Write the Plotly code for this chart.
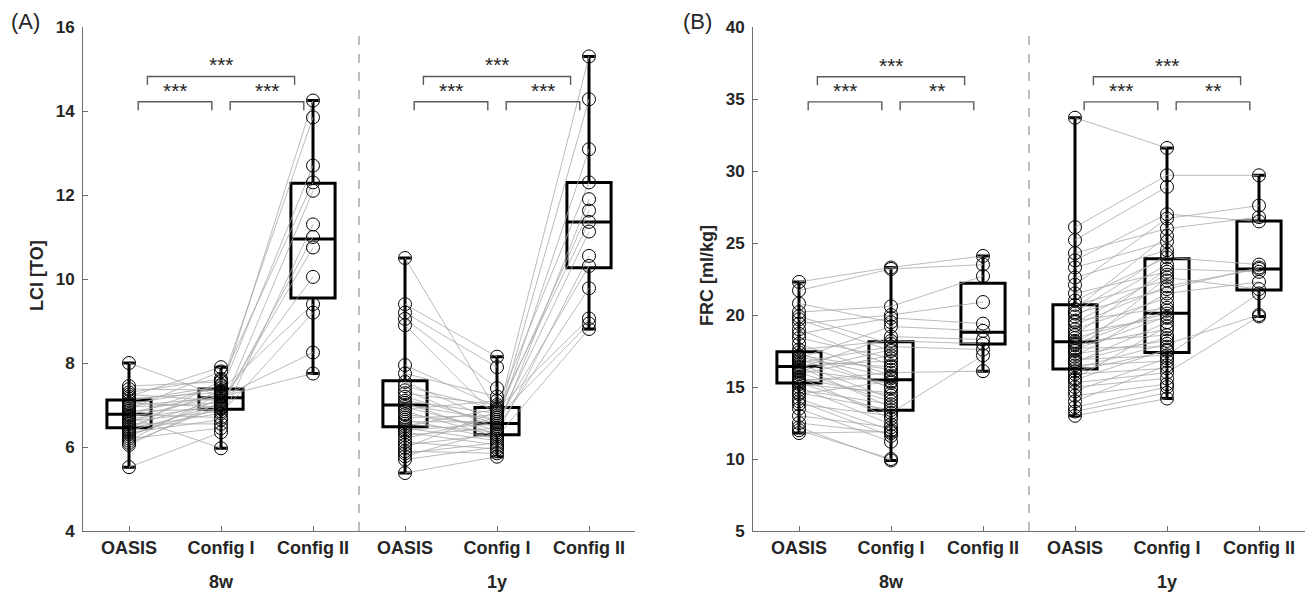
import plotly.graph_objects as go

N = None
W, H = 1308, 593
MT, MB = 27, 62

# ---------------- data ----------------
groups = ["OASIS", "Config I", "Config II"]
timepoints = ["8w", "1y"]

# LCI, 8 weeks (paired per subject)
lci_oasis_8w = [8.00, 7.45, 7.38, 7.30, 7.25, 7.20, 7.15, 7.10, 7.05, 7.02, 6.98, 6.95, 6.90, 6.86,
                6.82, 6.78, 6.75, 6.72, 6.70, 6.66, 6.62, 6.58, 6.55, 6.50, 6.46, 6.42, 6.38, 6.34,
                6.30, 6.25, 6.20, 6.15, 6.10, 6.05, 5.52]
lci_cfg1_8w = [7.20, 7.55, 7.35, 7.62, 7.10, 7.90, 7.30, 7.45, 6.95, 7.40, 7.18, 7.05, 7.80, 6.90,
               7.25, 6.70, 7.48, 5.97, 7.22, 7.00, 6.85, 7.32, 6.55, 7.12, 6.80, 7.58, 7.02, 6.65,
               6.92, 7.15, 6.45, 7.28, 6.98, 7.08, 6.35]
lci_cfg2_8w = [7.75, 12.30, 9.40, N, 10.05, N, 14.25, N, 11.00, N, 8.25, N, N, 12.10, N, N, 13.85,
               N, N, 10.75, N, 12.70, N, N, 9.20, N, N, 11.30]

# LCI, 1 year
lci_oasis_1y = [10.50, 9.40, 9.20, 9.05, 8.90, 7.95, 7.75, 7.55, 7.45, 7.35, 7.28, 7.20, 7.10, 7.05,
                7.00, 6.95, 6.90, 6.85, 6.78, 6.70, 6.65, 6.60, 6.55, 6.50, 6.45, 6.40, 6.35, 6.28,
                6.20, 6.12, 6.05, 5.98, 5.90, 5.85, 5.78, 5.70, 5.38]
lci_cfg1_1y = [6.85, 8.15, 7.90, 7.40, 6.70, 6.95, 7.20, 6.60, 6.90, 6.45, 7.00, 6.55, 6.80, 6.30,
               6.65, 6.40, 7.10, 6.25, 6.50, 6.75, 6.20, 6.60, 6.35, 6.90, 6.15, 6.55, 6.05, 6.45,
               6.70, 5.95, 6.30, 6.85, 5.85, 6.10, 6.40, 6.00, 5.77]
lci_cfg2_1y = [11.36, N, N, N, 15.30, 12.30, N, 14.28, N, 9.78, N, 13.09, N, 10.55, N, 11.90, N,
               8.81, N, 11.63, N, 10.31, N, 9.06, N, 11.13, N, N, 8.94]

# FRC, 8 weeks
frc_oasis_8w = [22.3, 21.7, 20.8, 20.2, 19.9, 19.7, 19.4, 19.0, 18.7, 18.4, 18.0, 17.6, 17.4, 17.2,
                17.0, 16.9, 16.7, 16.6, 16.5, 16.4, 16.3, 16.2, 16.0, 15.9, 15.7, 15.5, 15.4, 15.3,
                15.2, 15.0, 14.8, 14.5, 14.2, 14.0, 13.8, 13.5, 13.0, 12.5, 12.2, 12.0, 11.8, 16.8,
                15.6, 17.1, 14.6, 16.1]
frc_cfg1_8w = [23.3, 23.2, 19.5, 20.6, 18.0, 17.5, 20.0, 16.5, 19.8, 17.0, 15.8, 18.2, 14.9, 16.2,
               19.2, 15.0, 17.8, 14.2, 16.8, 13.6, 18.5, 15.3, 14.0, 17.2, 12.8, 15.6, 16.0, 13.2,
               14.6, 12.4, 13.8, 15.4, 12.0, 11.6, 13.0, 11.2, 12.2, 11.8, 9.9, 10.0, 11.9, 16.4,
               14.4, 15.7, 13.4, 17.6]
frc_cfg2_8w = [24.1, 23.5, N, 22.7, N, N, 20.9, N, 19.4, N, N, 18.0, N, N, 18.9, N, 17.6, N, N, N,
               18.3, N, N, N, N, N, 16.1, 17.2]

# FRC, 1 year
frc_oasis_1y = [33.7, 26.1, 25.2, 24.3, 23.8, 23.3, 22.6, 22.1, 21.5, 21.0, 20.7, 20.4, 20.1, 19.9,
                19.6, 19.3, 19.0, 18.8, 18.6, 18.4, 18.2, 18.1, 17.9, 17.7, 17.5, 17.3, 17.1, 16.9,
                16.7, 16.5, 16.3, 16.1, 15.9, 15.6, 15.3, 15.0, 14.7, 14.4, 14.0, 13.6, 13.3, 13.0,
                18.0, 19.5, 16.8, 20.2, 15.5, 17.6]
frc_cfg1_1y = [31.6, 29.7, 28.9, 26.0, 27.0, 25.1, 24.5, 26.7, 23.0, 24.0, 22.4, 25.5, 21.8, 23.5,
               20.5, 22.0, 21.2, 19.8, 23.2, 20.1, 18.6, 21.5, 19.0, 17.8, 22.6, 18.2, 20.8, 17.2,
               19.5, 16.8, 18.0, 17.5, 16.3, 19.2, 16.0, 15.6, 17.0, 15.2, 16.5, 15.0, 14.6, 14.2,
               20.3, 22.8, 18.4, 24.2, 17.6, 19.9]
frc_cfg2_1y = [N, 29.7, N, 26.8, 26.5, N, N, 27.6, N, 23.5, N, N, 23.3, N, N, 23.2, N, N, 23.0, N,
               N, 22.3, N, N, 21.8, N, N, 21.5, N, N, 20.0, N, N, N, 19.9]

# box statistics (OASIS 8w, Config I 8w, Config II 8w, OASIS 1y, Config I 1y, Config II 1y)
lci_q1 = [6.46, 6.90, 9.55, 6.48, 6.29, 10.27]
lci_med = [6.78, 7.17, 10.95, 7.00, 6.56, 11.36]
lci_q3 = [7.12, 7.38, 12.28, 7.58, 6.94, 12.30]
lci_lo = [5.52, 5.97, 7.75, 5.38, 5.77, 8.81]
lci_hi = [8.00, 7.90, 14.25, 10.50, 8.15, 15.30]

frc_q1 = [15.27, 13.39, 17.99, 16.25, 17.40, 21.74]
frc_med = [16.43, 15.50, 18.80, 18.15, 20.12, 23.20]
frc_q3 = [17.45, 18.15, 22.21, 20.72, 23.90, 26.52]
frc_lo = [11.80, 9.90, 16.10, 13.00, 14.20, 19.90]
frc_hi = [22.30, 23.30, 24.10, 33.70, 31.60, 29.70]

# significance labels: (OASIS-Config I, Config I-Config II, OASIS-Config II)
lci_sig = ["***", "***", "***"]
frc_sig = ["***", "**", "***"]

lci_ticks = [4, 6, 8, 10, 12, 14, 16]
frc_ticks = [5, 10, 15, 20, 25, 30, 35, 40]

# ---------------- figure ----------------
FONT = "Liberation Sans, Arial, sans-serif"
TXT = "#262626"
AX = "#6e6e6e"

fig = go.Figure()


def pad(lst, n):
    return list(lst) + [None] * (n - len(lst))


def b(s):
    return f"<b>{s}</b>"


panels = [
    dict(xa="x", ya="y",
         data=[(lci_oasis_8w, lci_cfg1_8w, lci_cfg2_8w), (lci_oasis_1y, lci_cfg1_1y, lci_cfg2_1y)],
         q1=lci_q1, med=lci_med, q3=lci_q3, lo=lci_lo, hi=lci_hi, sig=lci_sig,
         br=(14.22, 14.02, 14.82, 14.62, 14.50, 15.10)),
    dict(xa="x2", ya="y2",
         data=[(frc_oasis_8w, frc_cfg1_8w, frc_cfg2_8w), (frc_oasis_1y, frc_cfg1_1y, frc_cfg2_1y)],
         q1=frc_q1, med=frc_med, q3=frc_q3, lo=frc_lo, hi=frc_hi, sig=frc_sig,
         br=(34.80, 34.22, 36.54, 35.96, 35.60, 37.35)),
]

# connecting lines first
for p in panels:
    lx, ly = [], []
    for t, (a, bb, c) in enumerate(p["data"]):
        n = len(a)
        cols = [a, bb, pad(c, n)]
        for i in range(n):
            pts = [(1 + g + 3 * t, cols[g][i]) for g in range(3) if cols[g][i] is not None]
            for k in range(len(pts) - 1):
                lx += [pts[k][0], pts[k + 1][0], None]
                ly += [pts[k][1], pts[k + 1][1], None]
    fig.add_trace(go.Scatter(x=lx, y=ly, mode="lines", xaxis=p["xa"], yaxis=p["ya"],
                             line=dict(color="#a8a8a8", width=0.8), hoverinfo="skip"))

# markers
for p in panels:
    for t, cols in enumerate(p["data"]):
        for g in range(3):
            vals = [v for v in cols[g] if v is not None]
            fig.add_trace(go.Scatter(x=[1 + g + 3 * t] * len(vals), y=vals, mode="markers",
                                     xaxis=p["xa"], yaxis=p["ya"],
                                     marker=dict(symbol="circle-open", size=13, color="black",
                                                 line=dict(width=1))))

# boxes
for p in panels:
    for j in range(6):
        fig.add_trace(go.Box(x=[j + 1], q1=[p["q1"][j]], median=[p["med"][j]], q3=[p["q3"][j]],
                             lowerfence=[p["lo"][j]], upperfence=[p["hi"][j]],
                             xaxis=p["xa"], yaxis=p["ya"], width=0.48, whiskerwidth=0.26,
                             fillcolor="rgba(0,0,0,0)", line=dict(color="black", width=3),
                             boxpoints=False, hoverinfo="skip"))

PH = H - MT - MB


def py(pix):
    return ((H - MB) - pix) / PH


shapes = []
annotations = []
for p in panels:
    xr = p["xa"]
    yr = p["ya"]
    b_lo, b_leg, u_lo, u_leg, s_lo, s_up = p["br"]
    for t in range(2):
        o = 3 * t
        for (x0, x1) in [(1.1 + o, 1.9 + o), (2.1 + o, 2.9 + o)]:
            shapes.append(dict(type="path", xref=xr, yref=yr,
                               path=f"M {x0},{b_leg} L {x0},{b_lo} L {x1},{b_lo} L {x1},{b_leg}",
                               line=dict(color="#5a5a5a", width=1.4)))
        x0, x1 = 1.2 + o, 2.8 + o
        shapes.append(dict(type="path", xref=xr, yref=yr,
                           path=f"M {x0},{u_leg} L {x0},{u_lo} L {x1},{u_lo} L {x1},{u_leg}",
                           line=dict(color="#5a5a5a", width=1.4)))
        for xs, ys, s in [(1.5 + o, s_lo, p["sig"][0]), (2.5 + o, s_lo, p["sig"][1]),
                          (2.0 + o, s_up, p["sig"][2])]:
            annotations.append(dict(x=xs, y=ys, xref=xr, yref=yr, text=s, showarrow=False,
                                    xanchor="center", yanchor="middle",
                                    font=dict(family=FONT, size=21, color=TXT)))
    # dashed separator
    shapes.append(dict(type="line", xref=xr, yref=yr + " domain", x0=3.5, x1=3.5, y0=0, y1=1,
                       line=dict(color="#7a7a7a", width=1, dash="dash")))
    # group labels
    for t, lab in enumerate(timepoints):
        annotations.append(dict(x=2 + 3 * t, y=py(582), xref=xr, yref="paper", text=b(lab),
                                showarrow=False, xanchor="center", yanchor="middle",
                                font=dict(family=FONT, size=18, color=TXT)))

annotations += [
    dict(x=37 / W, y=py(276), xref="paper", yref="paper", text=b("LCI [TO]"), textangle=-90,
         showarrow=False, xanchor="center", yanchor="middle",
         font=dict(family=FONT, size=18, color=TXT)),
    dict(x=707 / W, y=py(276), xref="paper", yref="paper", text=b("FRC [ml/kg]"), textangle=-90,
         showarrow=False, xanchor="center", yanchor="middle",
         font=dict(family=FONT, size=18, color=TXT)),
    dict(x=25 / W, y=py(21), xref="paper", yref="paper", text="(A)", showarrow=False,
         xanchor="center", yanchor="middle", font=dict(family=FONT, size=22, color=TXT)),
    dict(x=697 / W, y=py(21), xref="paper", yref="paper", text="(B)", showarrow=False,
         xanchor="center", yanchor="middle", font=dict(family=FONT, size=22, color=TXT)),
]

xcommon = dict(range=[0.5, 6.5], tickvals=[1, 2, 3, 4, 5, 6], ticktext=[b(g) for g in groups] * 2,
               ticks="inside", ticklen=5, tickcolor=AX, showline=True, linecolor=AX, linewidth=1,
               showgrid=False, zeroline=False,
               tickfont=dict(family=FONT, size=18, color=TXT))
ycommon = dict(ticks="inside", ticklen=5, tickcolor=AX, showline=True, linecolor=AX, linewidth=1,
               showgrid=False, zeroline=False, ticklabelstandoff=4,
               tickfont=dict(family=FONT, size=17, color=TXT))

fig.update_layout(
    width=W, height=H, margin=dict(l=0, r=0, t=MT, b=MB),
    paper_bgcolor="white", plot_bgcolor="white", showlegend=False, boxmode="overlay",
    xaxis=dict(domain=[83 / W, 635 / W], anchor="y", **xcommon),
    xaxis2=dict(domain=[753 / W, 1305 / W], anchor="y2", **xcommon),
    yaxis=dict(domain=[0, 1], anchor="x", range=[4, 16], tickvals=lci_ticks,
               ticktext=[b(v) for v in lci_ticks], **ycommon),
    yaxis2=dict(domain=[0, 1], anchor="x2", range=[5, 40], tickvals=frc_ticks,
                ticktext=[b(v) for v in frc_ticks], **ycommon),
    shapes=shapes, annotations=annotations,
)

fig.write_html("out.html")
